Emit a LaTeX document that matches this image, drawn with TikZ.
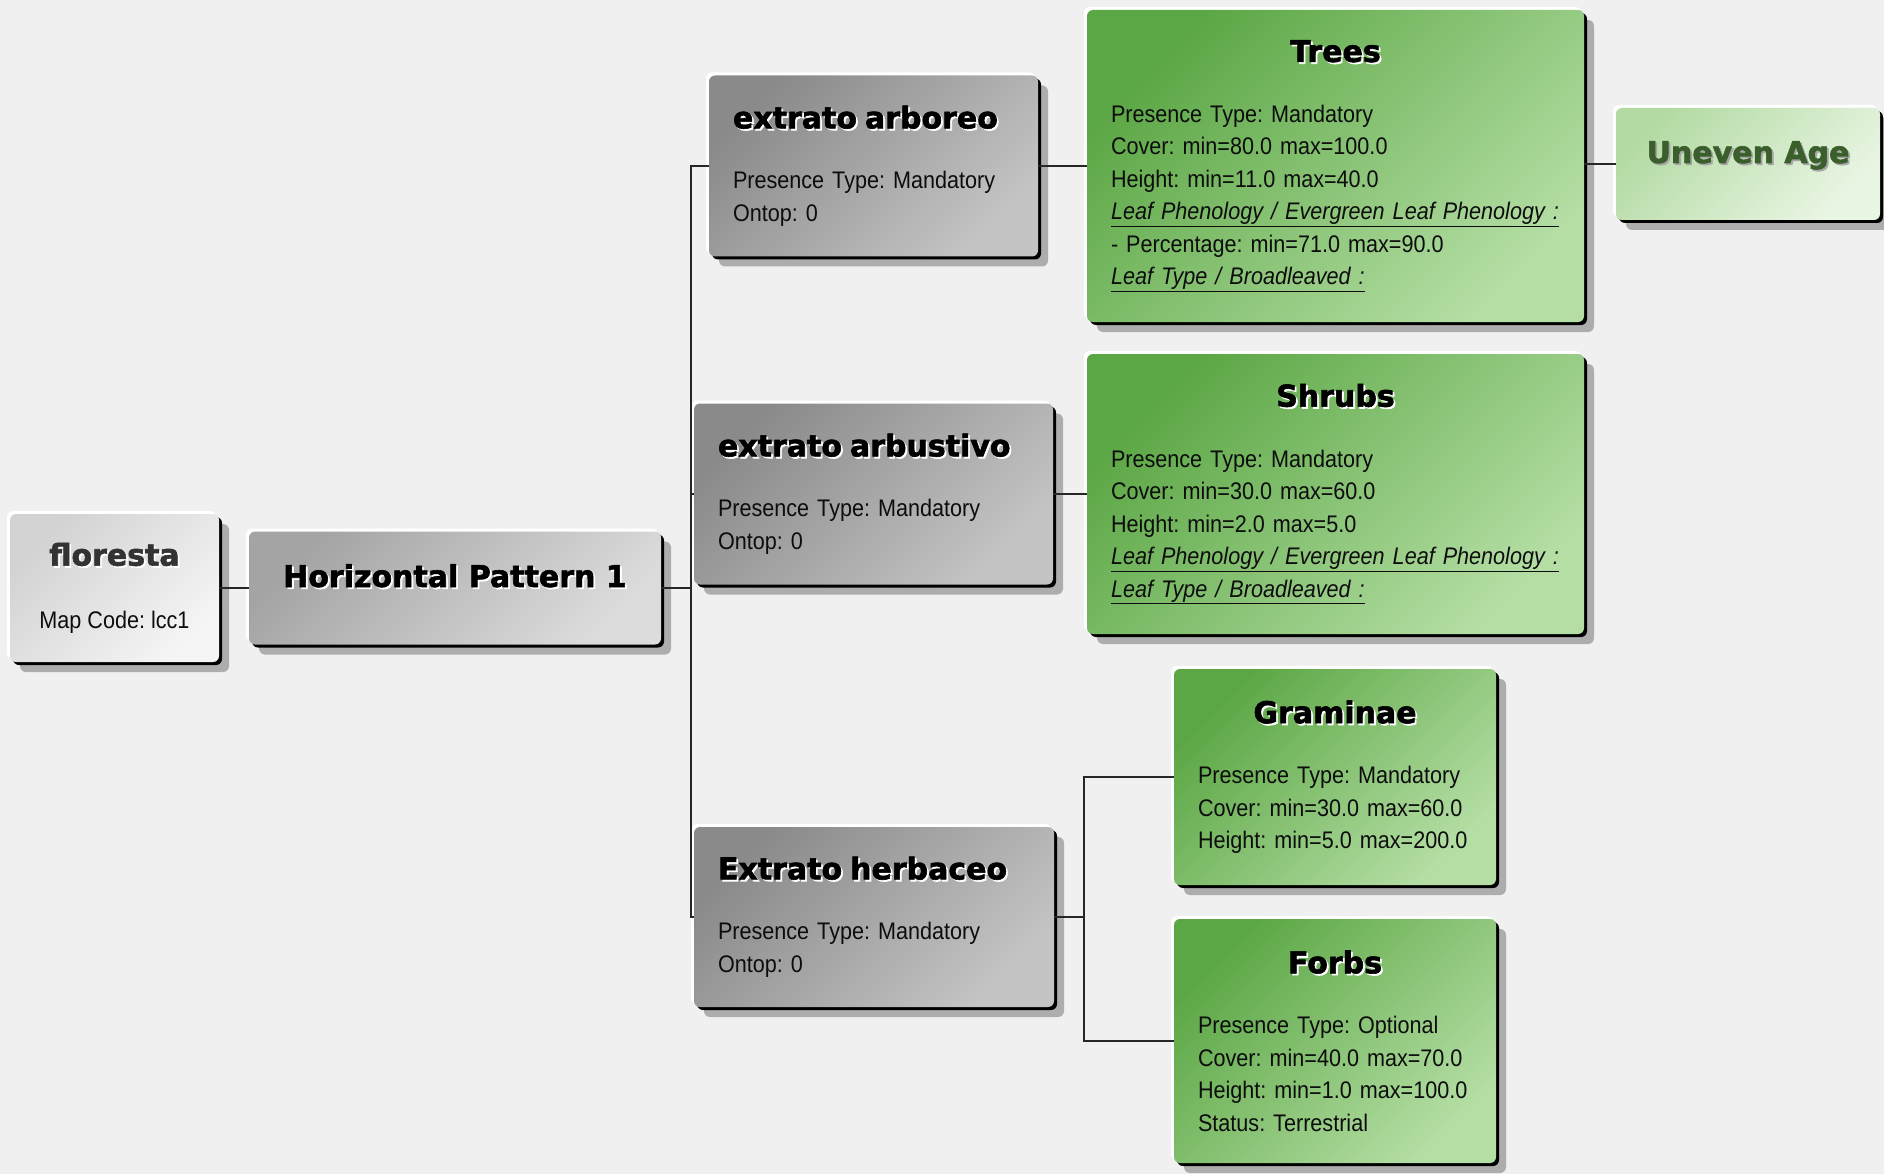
\documentclass[tikz,border=0pt]{standalone}
\usepackage{fontspec}
\usetikzlibrary{shadows}
\setmainfont{Liberation Sans}[FakeStretch=0.9]
\newfontfamily\headfont{DejaVu Sans}[BoldFeatures={FakeBold=2}]
\frenchspacing
\definecolor{bg}{HTML}{F0F0F0}
\definecolor{greyA}{HTML}{8A8A8A}
\definecolor{greyB}{HTML}{C4C4C4}
\definecolor{midA}{HTML}{A4A4A4}
\definecolor{midB}{HTML}{DCDCDC}
\definecolor{paleA}{HTML}{D2D2D2}
\definecolor{paleB}{HTML}{F5F5F5}
\definecolor{greenA}{HTML}{5CA745}
\definecolor{greenB}{HTML}{B4DEA4}
\definecolor{mintA}{HTML}{B3DAA3}
\definecolor{mintB}{HTML}{EAF6E4}
\definecolor{agegreen}{HTML}{3A5E2C}
% titles with a small offset shadow
\newcommand{\hd}[2][white]{{\headfont\bfseries\fontsize{30}{32.5}\selectfont\leavevmode\rlap{\hspace{1.8pt}\raisebox{-1.8pt}{\textcolor{#1}{#2}}}#2}}
\newcommand{\chd}[2][white]{\makebox[\hsize]{\hd[#1]{#2}}}
\newcommand{\leaf}[1]{\underline{\textit{#1}}}
\begin{document}
\begin{tikzpicture}[x=1pt,y=-1pt,
  box/.style={rounded corners=6pt, inner xsep=24pt, inner ysep=0pt, align=left,
    text=black!95, font=\fontsize{24}{32.5}\selectfont,
    drop shadow={shadow xshift=10pt, shadow yshift=-10pt, fill=black!32, opacity=1},
    drop shadow={shadow xshift=-3pt, shadow yshift=3pt, fill=white, opacity=1},
    drop shadow={shadow xshift=3pt, shadow yshift=-3pt, fill=black, opacity=1}},
  greybox/.style={box, top color=greyA, bottom color=greyB, shading angle=45},
  midbox/.style={box, top color=midA, bottom color=midB, shading angle=45},
  palebox/.style={box, top color=paleA, bottom color=paleB, shading angle=45},
  greenbox/.style={box, top color=greenA, bottom color=greenB, shading angle=45},
  mintbox/.style={box, top color=mintA, bottom color=mintB, shading angle=45},
  link/.style={line width=1.6pt, black!85}]
\fill[bg] (0,0) rectangle (1884,1174);
\useasboundingbox (0,0) rectangle (1884,1174);

% left part
\node[palebox, align=center, minimum width=209pt, minimum height=148pt] (flo) at (114.5,588)
  {\textcolor{black!80}{\hd{floresta}}\\[30pt] Map Code: lcc1};
\node[midbox, align=center, minimum width=412pt, minimum height=113pt, text height=22pt, text depth=24pt] (hp) at (455,588)
  {\textcolor{black}{\hd{Horizontal Pattern 1}}};

% strata
\node[greybox, text width=281pt, minimum height=181pt] (arb) at (873.5,166)
  {\textcolor{black}{\hd{extrato arboreo}}\\[28pt] Presence Type: Mandatory\\ Ontop: 0};
\node[greybox, text width=311pt, minimum height=181pt] (arbu) at (873.5,494)
  {\textcolor{black}{\hd{extrato arbustivo}}\\[28pt] Presence Type: Mandatory\\ Ontop: 0};
\node[greybox, text width=312pt, minimum height=180pt] (herb) at (874,917)
  {\textcolor{black}{\hd{Extrato herbaceo}}\\[28pt] Presence Type: Mandatory\\ Ontop: 0};

% life forms
\node[greenbox, text width=449pt, minimum height=312pt] (trees) at (1335.5,166)
  {\textcolor{black}{\chd{Trees}}\\[28pt] Presence Type: Mandatory\\ Cover: min=80.0 max=100.0\\ Height: min=11.0 max=40.0\\
   \leaf{Leaf Phenology / Evergreen Leaf Phenology :}\\ - Percentage: min=71.0 max=90.0\\ \leaf{Leaf Type / Broadleaved :}};
\node[mintbox, align=center, minimum width=264pt, minimum height=112pt, text height=22pt, text depth=24pt] (age) at (1748,164)
  {\textcolor{agegreen}{\hd[black!35]{Uneven Age}}};
\node[greenbox, text width=449pt, minimum height=280pt] (shrubs) at (1335.5,494)
  {\textcolor{black}{\chd{Shrubs}}\\[28pt] Presence Type: Mandatory\\ Cover: min=30.0 max=60.0\\ Height: min=2.0 max=5.0\\
   \leaf{Leaf Phenology / Evergreen Leaf Phenology :}\\ \leaf{Leaf Type / Broadleaved :}};
\node[greenbox, text width=274pt, minimum height=216pt] (gram) at (1335,777)
  {\textcolor{black}{\chd{Graminae}}\\[28pt] Presence Type: Mandatory\\ Cover: min=30.0 max=60.0\\ Height: min=5.0 max=200.0};
\node[greenbox, text width=274pt, minimum height=244pt] (forbs) at (1335,1041)
  {\textcolor{black}{\chd{Forbs}}\\[28pt] Presence Type: Optional\\ Cover: min=40.0 max=70.0\\ Height: min=1.0 max=100.0\\ Status: Terrestrial};

% connectors
\coordinate (j1) at (691,588);
\coordinate (j2) at (1084,917);
\draw[link] (flo) -- (hp);
\draw[link] (hp) -- (j1);
\draw[link] (arb) -| (j1);
\draw[link] (arbu) -| (j1);
\draw[link] (herb) -| (j1);
\draw[link] (arb) -- (trees);
\draw[link] (age.west) -- (age.west -| trees.east);
\draw[link] (arbu) -- (shrubs);
\draw[link] (herb) -- (j2);
\draw[link] (gram) -| (j2);
\draw[link] (forbs) -| (j2);
\end{tikzpicture}
\end{document}
